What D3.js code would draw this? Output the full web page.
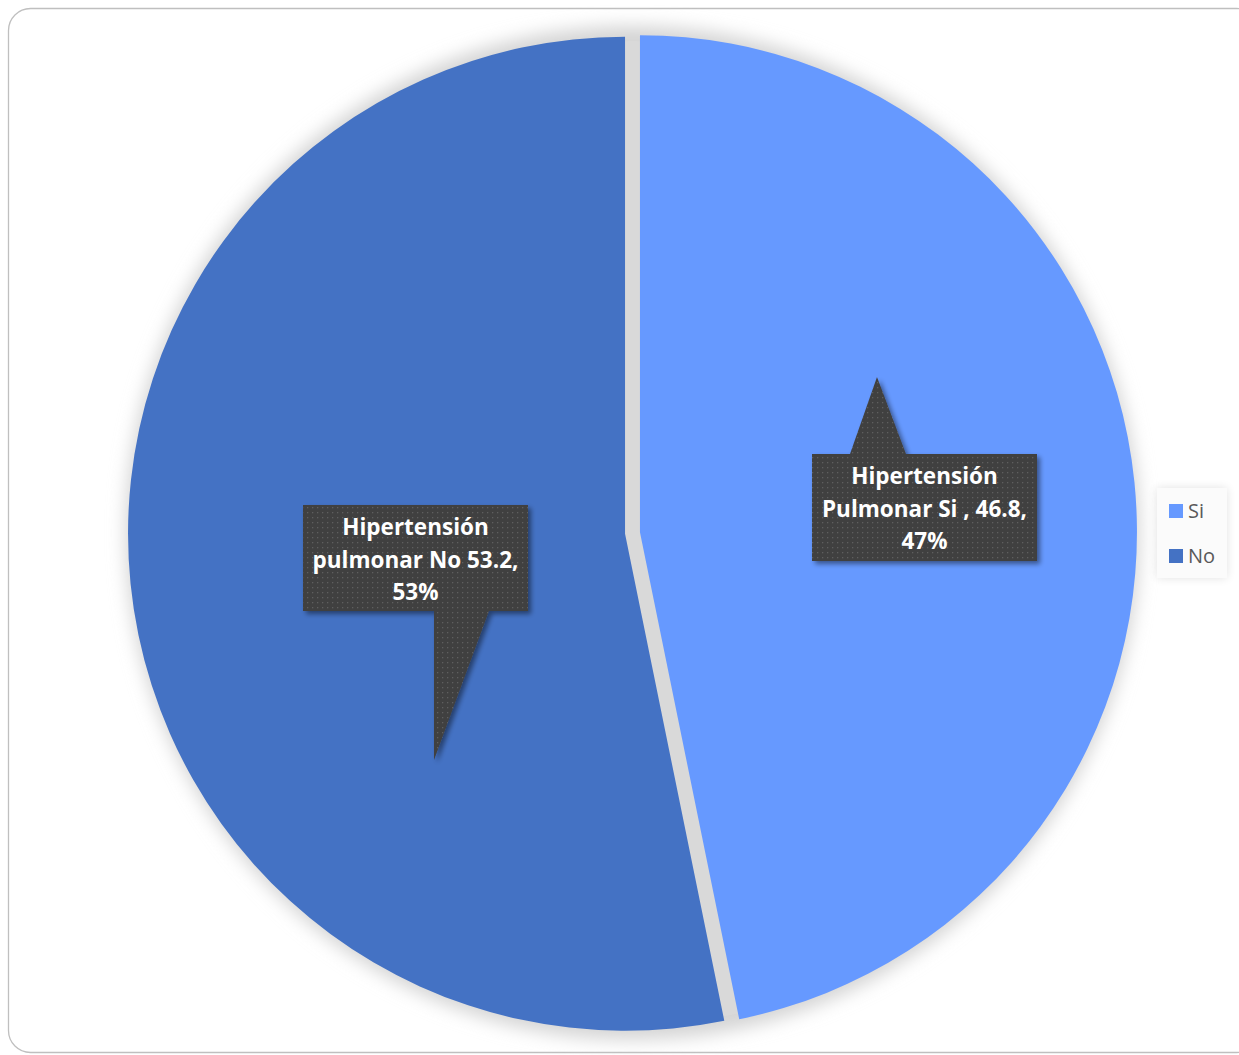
<!DOCTYPE html>
<html>
<head>
<meta charset="utf-8">
<script src="https://cdn.jsdelivr.net/npm/d3@7"></script>
<style>
  html, body { margin: 0; padding: 0; background: #ffffff; }
  svg { display: block; }
</style>
</head>
<body>
<svg id="chart" width="1239" height="1055"></svg>
<script>
// Pulmonary hypertension: share of patients (Si / No)
const categories = ["Si", "No"];
const values = [46.8, 53.2];
const percentLabels = ["47%", "53%"];
const colors = ["#6699ff", "#4472c4"];

const W = 1239, H = 1055;
const cx = 632.5, cy = 533, R = 497, explode = 7.5;
const FONT = "'Open Sans', Lato, sans-serif";

const svg = d3.select("#chart");
const defs = svg.append("defs");

// soft halo behind the pie
defs.append("filter").attr("id", "halo")
  .attr("x", "-20%").attr("y", "-20%").attr("width", "140%").attr("height", "140%")
  .append("feGaussianBlur").attr("stdDeviation", 9);

// drop shadow for callouts
const sh = defs.append("filter").attr("id", "shadow")
  .attr("x", "-20%").attr("y", "-20%").attr("width", "140%").attr("height", "140%");
sh.append("feGaussianBlur").attr("in", "SourceAlpha").attr("stdDeviation", 2.5).attr("result", "b");
sh.append("feOffset").attr("in", "b").attr("dx", 3).attr("dy", 3).attr("result", "o");
sh.append("feComponentTransfer").attr("in", "o").attr("result", "s")
  .append("feFuncA").attr("type", "linear").attr("slope", 0.45);
const m = sh.append("feMerge");
m.append("feMergeNode").attr("in", "s");
m.append("feMergeNode").attr("in", "SourceGraphic");

// soft shadow for the legend box
const lsh = defs.append("filter").attr("id", "lshadow")
  .attr("x", "-30%").attr("y", "-30%").attr("width", "160%").attr("height", "160%");
lsh.append("feGaussianBlur").attr("in", "SourceAlpha").attr("stdDeviation", 5).attr("result", "b");
lsh.append("feComponentTransfer").attr("in", "b").attr("result", "s")
  .append("feFuncA").attr("type", "linear").attr("slope", 0.12);
const lm = lsh.append("feMerge");
lm.append("feMergeNode").attr("in", "s");
lm.append("feMergeNode").attr("in", "SourceGraphic");

// dotted texture for callouts
const pat = defs.append("pattern").attr("id", "dots")
  .attr("patternUnits", "userSpaceOnUse").attr("width", 5).attr("height", 5);
pat.append("rect").attr("width", 5).attr("height", 5).attr("fill", "#404040");
pat.append("rect").attr("x", 2).attr("y", 2).attr("width", 1.3).attr("height", 1.3).attr("fill", "#5e5e5e");

// outer frame
svg.append("rect")
  .attr("x", 8.5).attr("y", 8.5).attr("width", 1250).attr("height", 1044)
  .attr("rx", 22).attr("fill", "#ffffff").attr("stroke", "#bfbfbf").attr("stroke-width", 1.3);

// halo / gap colour behind slices
svg.append("circle").attr("cx", cx).attr("cy", cy).attr("r", R + 10)
  .attr("fill", "#d4d4d4").attr("filter", "url(#halo)");
svg.append("circle").attr("cx", cx).attr("cy", cy).attr("r", R - 5)
  .attr("fill", "#d9d9d9");

const pie = d3.pie().sort(null).value(d => d);
const arcs = pie(values);
const arc = d3.arc().innerRadius(0).outerRadius(R);

svg.append("g").attr("transform", `translate(${cx},${cy})`)
  .selectAll("path").data(arcs).join("path")
  .attr("transform", d => {
    const a = (d.startAngle + d.endAngle) / 2;
    return `translate(${explode * Math.sin(a)},${-explode * Math.cos(a)})`;
  })
  .attr("d", arc)
  .attr("fill", (d, i) => colors[i]);

// callout layout: box [x, y, w, h] and pointer [base x1, base x2, apex x, apex y]
const callouts = [
  { box: [812, 454, 225, 107], ptr: [850, 906, 877, 377], side: "top" },
  { box: [303, 505, 225, 106], ptr: [434, 489, 434, 760], side: "bottom" }
];

const lines = arcs.map((d, i) => {
  const v = d3.format(".1f")(values[i]);
  if (i === 0) return ["Hipertensión", `Pulmonar Si , ${v},`, percentLabels[i]];
  return ["Hipertensión", `pulmonar No ${v},`, percentLabels[i]];
});

callouts.forEach((c, i) => {
  const [x, y, w, h] = c.box;
  const [b1, b2, ax, ay] = c.ptr;
  const by = c.side === "top" ? y : y + h;
  const path = d3.path();
  if (c.side === "top") {
    path.moveTo(x, y); path.lineTo(b1, y); path.lineTo(ax, ay); path.lineTo(b2, y);
    path.lineTo(x + w, y); path.lineTo(x + w, y + h); path.lineTo(x, y + h); path.closePath();
  } else {
    path.moveTo(x, y); path.lineTo(x + w, y); path.lineTo(x + w, y + h); path.lineTo(b2, by);
    path.lineTo(ax, ay); path.lineTo(b1, by); path.lineTo(x, y + h); path.closePath();
  }
  const g = svg.append("g");
  g.append("path").attr("d", path.toString()).attr("fill", "url(#dots)").attr("filter", "url(#shadow)");
  const t = g.append("text")
    .attr("text-anchor", "middle")
    .attr("font-family", FONT)
    .attr("font-weight", "bold").attr("font-size", 22.5).attr("fill", "#ffffff");
  lines[i].forEach((ln, k) => {
    t.append("tspan").attr("x", x + w / 2).attr("y", y + 30 + k * 32.5).text(ln);
  });
});

// legend
const lg = svg.append("g");
lg.append("rect").attr("x", 1157).attr("y", 488).attr("width", 70).attr("height", 90)
  .attr("fill", "#fbfbfb").attr("filter", "url(#lshadow)");
categories.forEach((c, i) => {
  const yy = 504 + i * 45;
  lg.append("rect").attr("x", 1169).attr("y", yy).attr("width", 14).attr("height", 14).attr("fill", colors[i]);
  lg.append("text").attr("x", 1188).attr("y", yy + 14)
    .attr("font-family", FONT).attr("font-size", 20)
    .attr("fill", "#595959").text(c);
});
</script>
</body>
</html>
